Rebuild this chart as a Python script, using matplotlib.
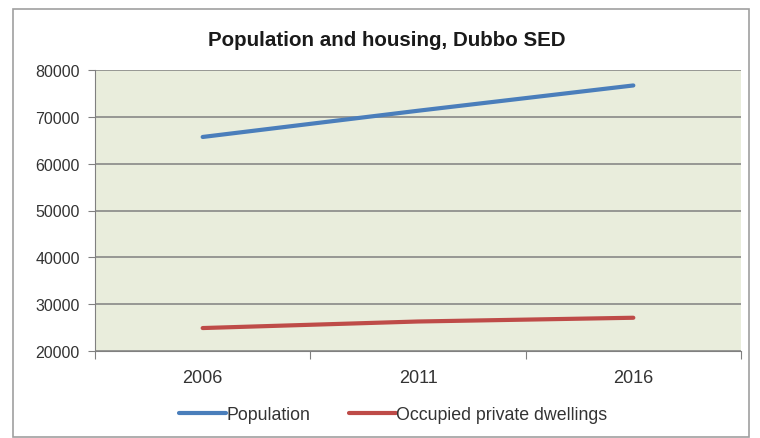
import matplotlib.pyplot as plt
import matplotlib.patches as mpatches
import numpy as np

# Series
years = ["2006", "2011", "2016"]
population = [65700, 71300, 76700]
dwellings = [24900, 26300, 27100]

TITLE = "Population and housing, Dubbo SED"
FONT = ["Liberation Sans Narrow", "Liberation Sans", "DejaVu Sans"]
plt.rcParams["font.family"] = FONT

fig = plt.figure(figsize=(7.6, 4.39), dpi=100)
W, H = 760, 439

# marco exterior del gráfico
frame = mpatches.Rectangle((13 / W, 1 - 438 / H), (749 - 13) / W, (438 - 10) / H,
                           transform=fig.transFigure, fill=False,
                           edgecolor="#a0a0a0", linewidth=1.2)
fig.patches.append(frame)

ax = fig.add_axes([95 / W, 1 - 352 / H, (741 - 95) / W, (352 - 71) / H])
ax.set_facecolor("#e9eddc")

x = np.arange(len(years))
ax.plot(x, population, color="#4a7ebb", linewidth=3, solid_capstyle="round",
        label="Population")
ax.plot(x, dwellings, color="#be4b48", linewidth=3, solid_capstyle="round",
        label="Occupied private dwellings")

ax.set_xlim(-0.5, len(years) - 0.5)
ax.set_ylim(20000, 80000)
ax.set_yticks(np.arange(20000, 80001, 10000))
ax.grid(axis="y", color="#808080", linewidth=1.1)
ax.set_axisbelow(True)

# ticks de categoría en los bordes, etiquetas al centro
ax.set_xticks(np.arange(-0.5, len(years)), minor=False)
ax.set_xticklabels([])
ax.set_xticks(x, minor=True)
ax.set_xticklabels(years, minor=True)
ax.tick_params(axis="x", which="major", length=6, color="#808080", direction="out")
ax.tick_params(axis="x", which="minor", length=0, pad=13, labelsize=13,
               labelcolor="#333333")
ax.tick_params(axis="y", length=5, color="#808080", labelsize=11.5,
               labelcolor="#333333", pad=6)

for side in ("top", "right"):
    ax.spines[side].set_visible(False)
for side in ("left", "bottom"):
    ax.spines[side].set_color("#808080")

fig.text(387 / W, 1 - 41 / H, TITLE, ha="center", va="center",
         fontsize=14.8, fontweight="bold", color="#1a1a1a")

ax.legend(loc="center", bbox_to_anchor=(0.462, -0.227), ncol=2, frameon=False,
          fontsize=12.8, handlelength=2.6, handletextpad=0.05, columnspacing=2.2,
          labelcolor="#333333")

fig.savefig("out.png", dpi=100)
